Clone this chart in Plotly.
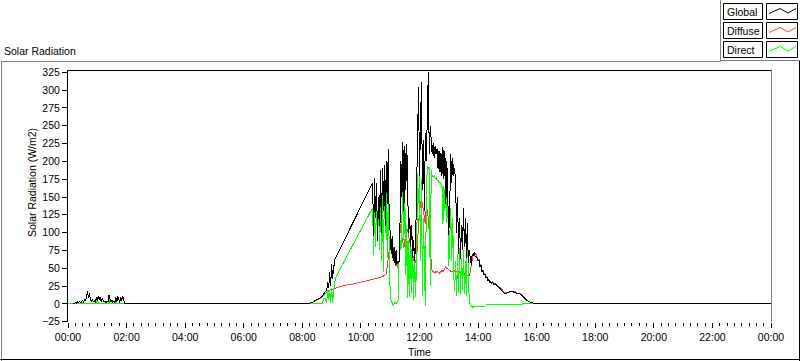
import plotly.graph_objects as go

W, H = 800, 361
ML, MR, MT, MB = 68, 29, 70, 39

# ---------------- data (minutes after midnight, W/m2) ----------------
night_grid = list(range(10, 118, 2))
main_grid = list(range(624, 836, 2))

global_night = [0, 0, 1, 2, 1, 3, 2, 4, 1, 3,
                5, 2, 6, 4, 10, 18, 8, 15, 6, 4,
                6, 3, 5, 2, 9, 4, 11, 6, 10, 3,
                8, 5, 3, 4, 2, 4, 3, 12, 6, 3,
                5, 2, 4, 1, 9, 3, 11, 5, 2, 10,
                4, 11, 3, 0]
global_ramp_t = [120, 489, 495, 500, 505, 510, 515, 520, 524, 527, 530, 532,
                 534, 536, 538, 540, 542, 544, 546, 547]
global_ramp = [0, 0, 1, 2, 4, 6, 8, 10, 14, 17, 20, 30,
               22, 45, 25, 56, 35, 50, 60, 63]
global_main = [170, 95, 176, 120, 170, 88, 150, 110,
               188, 100, 191, 130, 195, 110, 200, 140, 218, 120,
               100, 70, 95, 60, 80, 55, 75, 56, 60, 58,
               110, 200, 150, 227, 130, 222, 160, 225,
               150, 100, 120, 80, 110, 65, 90, 60, 85,
               150, 250, 304, 180, 240, 312, 160, 230, 130, 240, 200, 300, 325, 210, 250,
               230, 210, 226, 205, 222, 210, 218,
               190, 215, 185, 212, 180, 220, 175, 215, 140, 200, 150,
               96, 140,
               211, 170, 205, 180, 190,
               169, 100, 150, 70, 120, 63, 110, 75,
               134, 80, 120, 65,
               114, 58, 75,
               60, 55, 70, 68, 72, 67]
tail_t = [836, 838, 840, 842, 844, 846, 848, 850, 852, 854,
          856, 858, 860, 862, 864, 866, 868, 870, 872, 876,
          880, 884, 888, 891, 895, 899, 903, 907, 911, 916,
          920, 924, 928, 932, 936, 940, 944, 948, 952, 956,
          961]
global_tail = [67, 64, 60, 62, 52, 54, 45, 47, 40, 42,
               36, 38, 32, 34, 30, 31, 29, 30, 27, 28,
               25, 22, 20, 18, 14, 15, 16, 18, 17, 16,
               14, 15, 13, 10, 7, 5, 3, 2, 1, 0.5,
               0]
global_end_t = [1440]
global_end = [0]

diffuse_night_t = [0, 28, 30, 114, 116, 489]
diffuse_night = [0, 0, -1, -1, 0, 0]
diffuse_ramp_t = [500, 510, 520, 525, 530, 537, 543, 547, 555, 565, 578, 590, 600, 612, 620]
diffuse_ramp = [2, 5, 9, 13, 16, 20, 21, 22, 24, 26, 27, 29, 30, 32, 33]
diffuse_main = [34, 34, 35, 35, 36, 36, 36, 37,
                37, 38, 38, 39, 40, 41, 42, 53, 63, 75,
                91, 86, 72, 80, 67, 60, 53, 56, 51, 60,
                112, 100, 93, 85, 79, 90, 95, 100,
                105, 95, 86, 80, 72, 70, 61, 65, 58,
                62, 80, 110, 130, 140, 148, 140, 130, 125, 112, 140, 130, 120, 100, 90,
                55, 46, 45, 44, 45, 44, 46,
                45, 43, 44, 46, 47, 45, 48, 50, 52, 50, 49,
                48, 47,
                46, 45, 46, 47, 46,
                45, 46, 44, 45, 44, 43, 44, 42,
                41, 42, 40, 40,
                40, 39, 40,
                45, 55, 65, 70, 72, 70]
diffuse_tail = [69, 65, 62, 62, 54, 55, 47, 47, 42, 43,
                38, 38, 33, 34, 31, 31, 30, 31, 28, 28,
                26, 23, 21, 18, 15, 16, 16, 18, 17, 17,
                15, 15, 14, 10, 7, 5, 3, 2, 1, 0.5,
                0]

direct_night_t = [0, 10, 14, 16, 28, 30, 32, 58, 60, 62, 82, 84, 86, 96, 98, 100, 116, 520]
direct_night = [0, 0, 1, 0, 0, 2, 0, 0, 8, 0, 0, 10, 0, 0, 3, 0, 0, 0]
direct_ramp_t = [522, 524, 527, 530, 532, 534, 536, 538, 540, 542, 544, 546, 548]
direct_ramp = [4, 7, 7, 2, 20, 5, 20, 3, 22, 2, 18, 30, 37]
direct_main = [135, 68, 140, 80, 145, 100, 150, 75,
               160, 60, 155, 45, 158, 100, 156, 65, 150, 70,
               11, 5, 0, -2, 0, 2, 0, 3, 5, 60,
               90, 75, 140, 169, 90, 150, 40, 110,
               8, 90, 10, 100, 15, 80, 5, 70, 10,
               60, 184, 140, 180, 60, 175, 11, 120, 40, -3, 150, 194, 190, 192, 25,
               188, 180, 178, 180, 176, 177, 173,
               174, 170, 171, 168, 166, 112, 165, 130, 160, 114, 150,
               53, 95,
               134, 60, 120, 42, 18,
               60, 11, 70, 15, 79, 12, 65, 20,
               75, 14, 60, 11,
               100, 30, 1,
               0, -3, -4, -5, -3, -3]
direct_tail_t = [836, 854, 856, 930, 932, 952]
direct_tail = [-3, -3, -1.5, -1.5, 0.5, 0.5]

hour_ticks = list(range(0, 1441, 120))
hour_labels = ["00:00", "02:00", "04:00", "06:00", "08:00", "10:00", "12:00",
               "14:00", "16:00", "18:00", "20:00", "22:00", "00:00"]
y_ticks = list(range(-25, 326, 25))

series_names = ["Global", "Diffuse", "Direct"]
series_colors = ["#000000", "#FF3F3F", "#00FF00"]

# ---------------- assemble ----------------
global_t = night_grid + global_ramp_t + main_grid + tail_t + global_end_t
global_v = global_night + global_ramp + global_main + global_tail + global_end
diffuse_t = diffuse_night_t + diffuse_ramp_t + main_grid + tail_t
diffuse_v = diffuse_night + diffuse_ramp + diffuse_main + diffuse_tail
direct_t = direct_night_t + direct_ramp_t + main_grid + direct_tail_t
direct_v = direct_night + direct_ramp + direct_main + direct_tail
assert len(global_t) == len(global_v)
assert len(diffuse_t) == len(diffuse_v)
assert len(direct_t) == len(direct_v)

FONT = "Liberation Sans"
FS = 10.5

fig = go.Figure()
fig.add_trace(go.Scatter(x=diffuse_t, y=diffuse_v, mode="lines", name=series_names[1],
                         line=dict(color=series_colors[1], width=1)))
fig.add_trace(go.Scatter(x=direct_t, y=direct_v, mode="lines", name=series_names[2],
                         line=dict(color=series_colors[2], width=1)))
fig.add_trace(go.Scatter(x=global_t, y=global_v, mode="lines", name=series_names[0],
                         line=dict(color=series_colors[0], width=1)))

PW, PH = W - ML - MR, H - MT - MB


def X(px):
    return (px - ML) / PW


def Y(py):
    return (H - MB - py) / PH


shapes = []


def line(x0, y0, x1, y1, color, width=1):
    shapes.append(dict(type="line", xref="paper", yref="paper",
                       x0=X(x0), y0=Y(y0), x1=X(x1), y1=Y(y1),
                       line=dict(color=color, width=width)))


def rect(x0, y0, x1, y1):
    shapes.append(dict(type="rect", xref="paper", yref="paper",
                       x0=X(x0), y0=Y(y0), x1=X(x1), y1=Y(y1),
                       line=dict(color="black", width=1), fillcolor="white"))


# plot area borders
line(68, 70.5, 771, 70.5, "black")
line(771.5, 70, 771.5, 322, "#808080")
# outer frame
line(1.5, 361, 1.5, 61.5, "#808080")
line(1, 61.5, 720.5, 61.5, "#808080")
line(720.5, 61.5, 720.5, 0, "#808080")
line(720.5, 60.5, 800, 60.5, "#808080")
line(0, 359.5, 800, 359.5, "black")
line(799.5, 61, 799.5, 361, "black")

annotations = []
row_tops = [3, 22, 41]
for name, color, top in zip(series_names, series_colors, row_tops):
    rect(723.5, top + 0.5, 762.5, top + 16.5)
    rect(766.5, top + 0.5, 797.5, top + 16.5)
    pts = [(769, top + 10.5), (780, top + 5.5), (788, top + 10), (796, top + 5.5)]
    path = "M " + " L ".join(f"{X(a)},{Y(b)}" for a, b in pts)
    shapes.append(dict(type="path", xref="paper", yref="paper", path=path,
                       line=dict(color=color, width=1)))
    annotations.append(dict(xref="paper", yref="paper", x=X(725), y=Y(top + 9),
                            xanchor="left", yanchor="middle", text=name, showarrow=False,
                            font=dict(family=FONT, size=FS, color="black")))

annotations.append(dict(xref="paper", yref="paper", x=X(2), y=Y(51),
                        xanchor="left", yanchor="middle", text="Solar Radiation",
                        showarrow=False, font=dict(family=FONT, size=FS, color="black")))
annotations.append(dict(xref="paper", yref="paper", x=X(32), y=Y(183),
                        xanchor="center", yanchor="middle", text="Solar Radiation (W/m2)",
                        textangle=-90, showarrow=False,
                        font=dict(family=FONT, size=FS, color="black")))
annotations.append(dict(xref="paper", yref="paper", x=X(419.5), y=Y(352),
                        xanchor="center", yanchor="middle", text="Time",
                        showarrow=False, font=dict(family=FONT, size=FS, color="black")))

fig.update_layout(
    width=W, height=H,
    margin=dict(l=ML, r=MR, t=MT, b=MB, pad=0),
    paper_bgcolor="white", plot_bgcolor="white",
    showlegend=False,
    shapes=shapes, annotations=annotations,
    font=dict(family=FONT, size=FS, color="black"),
    xaxis=dict(range=[0, 1440], tickmode="array", tickvals=hour_ticks, ticktext=hour_labels,
               ticks="outside", ticklen=5, tickcolor="black", tickwidth=1,
               showgrid=False, zeroline=False, showline=False,
               minor=dict(tickmode="linear", tick0=0, dtick=15, ticks="outside",
                          ticklen=3, tickcolor="black", showgrid=False),
               tickfont=dict(family=FONT, size=FS, color="black")),
    yaxis=dict(range=[-25.4, 328.2], tickmode="array", tickvals=y_ticks,
               ticks="outside", ticklen=5, tickcolor="black", tickwidth=1,
               showgrid=False, zeroline=False, showline=True, linecolor="black",
               linewidth=1, tickfont=dict(family=FONT, size=FS, color="black")),
)

page_fix = (
    "document.body.style.margin='0';"
    "document.body.style.padding='0';"
    "var s=document.createElement('style');"
    "s.textContent='.scatterlayer path.js-line{shape-rendering:crispEdges;}';"
    "document.head.appendChild(s);"
)

fig.write_html("out.html", post_script=page_fix, config={"displayModeBar": False})
